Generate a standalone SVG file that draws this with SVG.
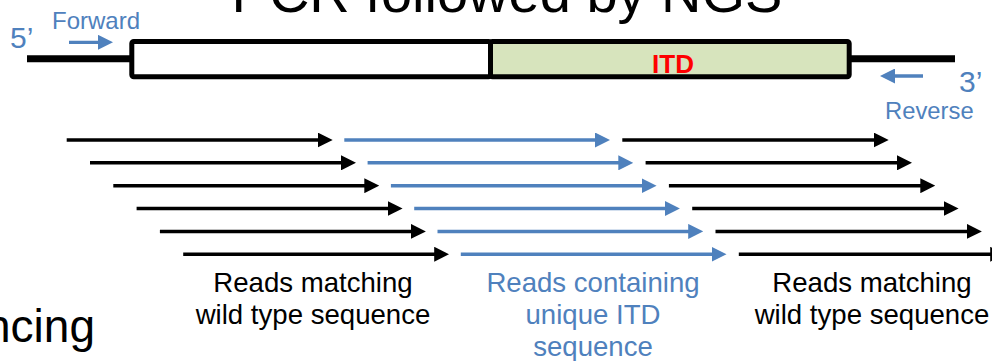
<svg xmlns="http://www.w3.org/2000/svg" width="992" height="361" viewBox="0 0 992 361">
<style>
  text { font-family: "Liberation Sans", Arial, sans-serif; }
  .title { font-size: 56px; fill: #000; }
  .blue { fill: #4f81bd; }
  .lbl { font-size: 27.6px; text-anchor: middle; }
  .blk { stroke: #000; stroke-width: 3.5; fill: none; }
  .bl { stroke: #4f81bd; stroke-width: 3.5; fill: none; }
  .ka { marker-end: url(#hk); }
  .ba { marker-end: url(#hb); }
</style>
<defs>
  <marker id="hk" viewBox="0 0 15 15" refX="5" refY="7.5" markerWidth="15" markerHeight="15" markerUnits="userSpaceOnUse" orient="auto">
    <path d="M0,0 L15,7.5 L0,15 Z" fill="#000"/>
  </marker>
  <marker id="hb" viewBox="0 0 15 15" refX="5" refY="7.5" markerWidth="15" markerHeight="15" markerUnits="userSpaceOnUse" orient="auto">
    <path d="M0,0 L15,7.5 L0,15 Z" fill="#4f81bd"/>
  </marker>
</defs>

<g id="title">
  <text class="title" x="507" y="12" text-anchor="middle">PCR followed by NGS</text>
</g>
<g id="subtitle">
  <text x="95" y="342" font-size="46" text-anchor="end">Sequencing</text>
</g>

<g id="gene">
  <line x1="27" y1="58.7" x2="132" y2="58.7" stroke="#000" stroke-width="7"/>
  <line x1="849" y1="58.7" x2="955" y2="58.7" stroke="#000" stroke-width="7"/>
  <rect x="131.8" y="41.5" width="358.7" height="35.3" fill="#fff" stroke="#000" stroke-width="5" rx="2"/>
  <rect x="490.5" y="41.5" width="358.7" height="35.3" fill="#d7e4bd" stroke="#000" stroke-width="5" rx="2"/>
  <text x="673" y="72.5" font-size="26" font-weight="bold" fill="#ff0000" text-anchor="middle">ITD</text>
</g>

<g id="primer-forward">
  <text class="blue" x="10" y="48" font-size="30">5’</text>
  <text class="blue" x="52" y="29.3" font-size="24">Forward</text>
</g>
<g id="primer-reverse">
  <text class="blue" x="959" y="92.3" font-size="30">3’</text>
  <text class="blue" x="885" y="119.3" font-size="23.8">Reverse</text>
</g>

<g id="connectors">
  <line x1="69" y1="42.3" x2="103" y2="42.3" stroke="#4f81bd" stroke-width="3.3" marker-end="url(#hb)"/>
  <line x1="923" y1="76" x2="890" y2="76" stroke="#4f81bd" stroke-width="3.3" marker-end="url(#hb)"/>

  <g id="row1" transform="translate(0,0)">
    <line class="blk ka" x1="66.7" y1="140" x2="322.7" y2="140"/>
    <line class="bl ba" x1="344.3" y1="140" x2="600" y2="140"/>
    <line class="blk ka" x1="622.3" y1="140" x2="878.7" y2="140"/>
  </g>
  <g id="row2" transform="translate(23.3,22.85)">
    <line class="blk ka" x1="66.7" y1="140" x2="322.7" y2="140"/>
    <line class="bl ba" x1="344.3" y1="140" x2="600" y2="140"/>
    <line class="blk ka" x1="622.3" y1="140" x2="878.7" y2="140"/>
  </g>
  <g id="row3" transform="translate(46.6,45.7)">
    <line class="blk ka" x1="66.7" y1="140" x2="322.7" y2="140"/>
    <line class="bl ba" x1="344.3" y1="140" x2="600" y2="140"/>
    <line class="blk ka" x1="622.3" y1="140" x2="878.7" y2="140"/>
  </g>
  <g id="row4" transform="translate(69.9,68.55)">
    <line class="blk ka" x1="66.7" y1="140" x2="322.7" y2="140"/>
    <line class="bl ba" x1="344.3" y1="140" x2="600" y2="140"/>
    <line class="blk ka" x1="622.3" y1="140" x2="878.7" y2="140"/>
  </g>
  <g id="row5" transform="translate(93.2,91.4)">
    <line class="blk ka" x1="66.7" y1="140" x2="322.7" y2="140"/>
    <line class="bl ba" x1="344.3" y1="140" x2="600" y2="140"/>
    <line class="blk ka" x1="622.3" y1="140" x2="878.7" y2="140"/>
  </g>
  <g id="row6" transform="translate(116.5,114.25)">
    <line class="blk ka" x1="66.7" y1="140" x2="322.7" y2="140"/>
    <line class="bl ba" x1="344.3" y1="140" x2="600" y2="140"/>
    <line class="blk ka" x1="622.3" y1="140" x2="878.7" y2="140"/>
  </g>
</g>

<g id="label-left">
  <text class="lbl" x="313" y="292">Reads matching</text>
  <text class="lbl" x="313" y="324">wild type sequence</text>
</g>
<g id="label-middle">
  <text class="lbl blue" x="593" y="292">Reads containing</text>
  <text class="lbl blue" x="593" y="324">unique ITD</text>
  <text class="lbl blue" x="593" y="356">sequence</text>
</g>
<g id="label-right">
  <text class="lbl" x="872" y="292">Reads matching</text>
  <text class="lbl" x="872" y="324">wild type sequence</text>
</g>
</svg>
